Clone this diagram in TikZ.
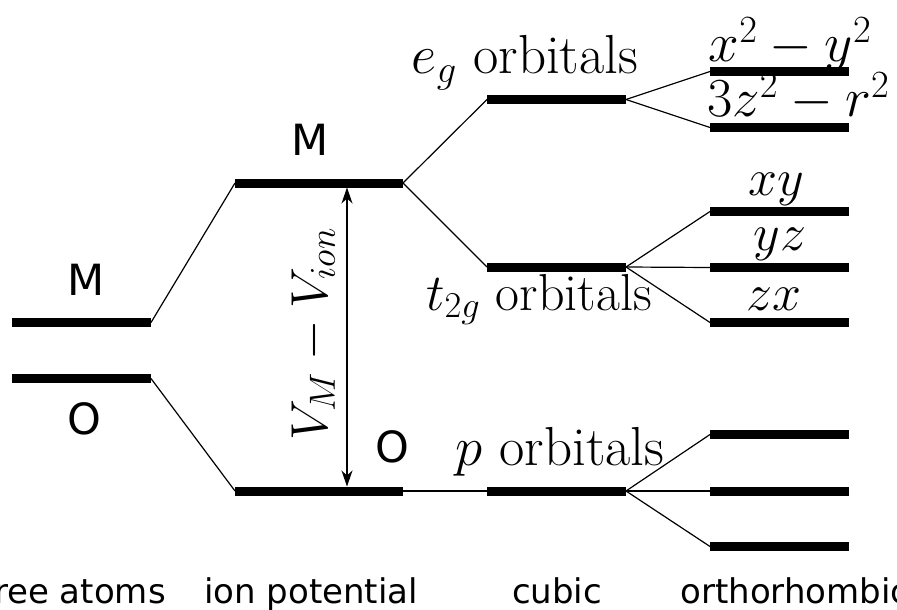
\RequirePackage{fix-cm}
\documentclass[tikz,border=0pt]{standalone}
\usepackage{fontspec}
\newfontfamily\dejavu{DejaVu Sans}
\usetikzlibrary{arrows.meta}
\begin{document}
\begin{tikzpicture}[x=1pt,y=-1pt,
  level/.style={line width=9pt},
  conn/.style={line width=1.2pt},
  mlab/.style={font=\fontsize{52}{60}\selectfont, inner sep=0pt, anchor=base},
  mbig/.style={font=\fontsize{55}{62}\selectfont, inner sep=0pt, anchor=base},
  slab/.style={font=\dejavu\fontsize{43}{50}\selectfont, inner sep=0pt, anchor=base},
  blab/.style={font=\dejavu\fontsize{34}{40}\selectfont, inner sep=0pt, anchor=base}]
\useasboundingbox (0,0) rectangle (897,610);
% free atoms
\coordinate (fMl) at (12,322.5);  \coordinate (fMr) at (151,322.5);
\coordinate (fOl) at (12,378.5);  \coordinate (fOr) at (151,378.5);
% ion potential
\coordinate (iMl) at (235,183);   \coordinate (iMr) at (403,183);
\coordinate (iOl) at (235,491);   \coordinate (iOr) at (403,491);
% cubic
\coordinate (cEl) at (487,99.5);  \coordinate (cEr) at (626,99.5);
\coordinate (cTl) at (487,267);   \coordinate (cTr) at (626,267);
\coordinate (cPl) at (487,491);   \coordinate (cPr) at (626,491);
% orthorhombic
\coordinate (o1l) at (710,71.5);  \coordinate (o1r) at (849,71.5);
\coordinate (o2l) at (710,127.5); \coordinate (o2r) at (849,127.5);
\coordinate (o3l) at (710,211.5); \coordinate (o3r) at (849,211.5);
\coordinate (o4l) at (710,267.5); \coordinate (o4r) at (849,267.5);
\coordinate (o5l) at (710,322.5); \coordinate (o5r) at (849,322.5);
\coordinate (o6l) at (710,434.5); \coordinate (o6r) at (849,434.5);
\coordinate (o7l) at (710,491);   \coordinate (o7r) at (849,491);
\coordinate (o8l) at (710,546.5); \coordinate (o8r) at (849,546.5);

\foreach \a in {fM,fO,iM,iO,cE,cT,cP,o1,o2,o3,o4,o5,o6,o7,o8}
  \draw[level] (\a l) -- (\a r);

% connectors
\draw[conn] (fMr) -- (iMl);
\draw[conn] (fOr) -- (iOl);
\draw[conn] (iMr) -- (cEl);
\draw[conn] (iMr) -- (cTl);
\draw[conn] (iOr) -- (cPl);
\draw[conn] (cEr) -- (o1l);
\draw[conn] (cEr) -- (o2l);
\draw[conn] (cTr) -- (o3l);
\draw[conn] (cTr) -- (o4l);
\draw[conn] (cTr) -- (o5l);
\draw[conn] (cPr) -- (o6l);
\draw[conn] (cPr) -- (o7l);
\draw[conn] (cPr) -- (o8l);

% arrow
\coordinate (aT) at (347,187.5);
\coordinate (aB) at (347,486.5);
\draw[conn, {Stealth[length=16pt,width=11pt,inset=5pt]}-{Stealth[length=16pt,width=11pt,inset=5pt]}] (aT) -- (aB);
\node[mlab, rotate=90] (vlab) at (327,334.5) {$V_M - V_{ion}$};

% labels
\node[slab] (lfM) at (86,295) {M};
\node[slab] (lfO) at (84,434) {O};
\node[slab] (liM) at (310,155) {M};
\node[slab] (liO) at (392,462) {O};
\node[mbig] (leg) at (525,74) {$e_g$ orbitals};
\node[mlab] (ltg) at (539,310) {$t_{2g}$ orbitals};
\node[mbig] (lp) at (560,465) {$p$ orbitals};
\node[mbig] (l1) at (790,62) {$x^2-y^2$};
\node[mbig, anchor=base west] (l2) at (707,117) {$3z^2-r^2$};
\node[mlab] (l3) at (776,195) {$xy$};
\node[mlab] (l4) at (780,250) {$yz$};
\node[mlab] (l5) at (774,310) {$zx$};

% bottom labels
\node[blab] (b1) at (74,603) {free atoms};
\node[blab] (b2) at (311,603) {ion potential};
\node[blab] (b3) at (557,603) {cubic};
\node[blab] (b4) at (795,603) {orthorhombic};
\end{tikzpicture}
\end{document}
